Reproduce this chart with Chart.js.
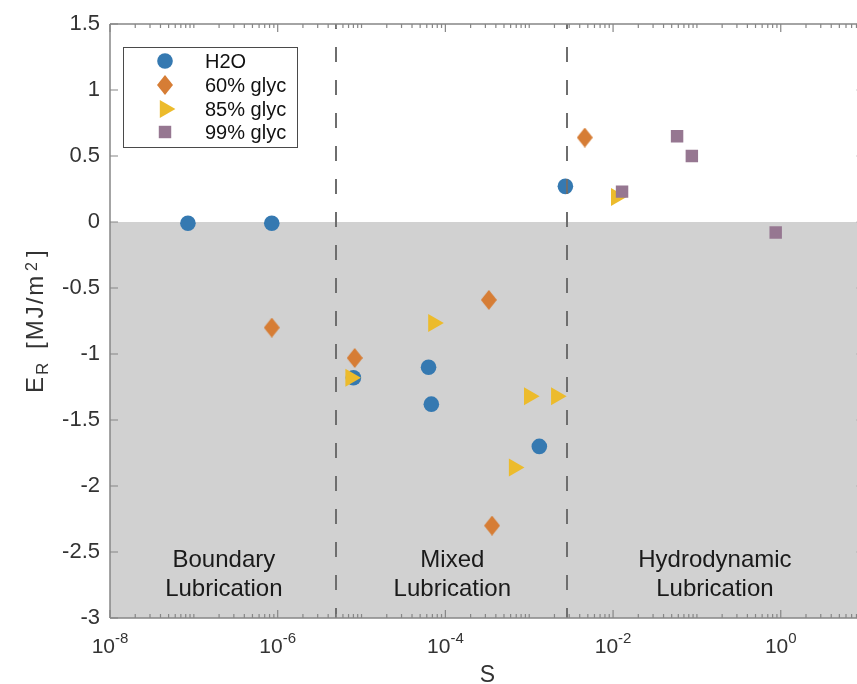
<!DOCTYPE html>
<html>
<head>
<meta charset="utf-8">
<script src="https://cdn.jsdelivr.net/npm/chart.js@4/dist/chart.umd.min.js"></script>
<style>
  html, body { margin: 0; padding: 0; background: #fff; overflow: hidden; }
  #wrap { width: 875px; height: 684px; }
</style>
</head>
<body>
<div id="wrap"><canvas id="erChart"></canvas></div>
<script>
// ---- data ----
const seriesNames = ["H2O", "60% glyc", "85% glyc", "99% glyc"];

const h2oS = [8.5e-8, 8.5e-7, 8.0e-6, 6.3e-5, 6.8e-5, 1.32e-3, 2.7e-3];
const h2oE = [-0.01, -0.01, -1.18, -1.10, -1.38, -1.70, 0.27];

const glyc60S = [8.5e-7, 8.3e-6, 3.3e-4, 3.6e-4, 4.6e-3];
const glyc60E = [-0.80, -1.03, -0.59, -2.30, 0.64];

const glyc85S = [7.4e-6, 7.2e-5, 1.0e-3, 2.1e-3, 6.6e-4, 1.09e-2];
const glyc85E = [-1.18, -0.765, -1.32, -1.32, -1.86, 0.19];

const glyc99S = [1.28e-2, 5.8e-2, 8.7e-2, 0.87];
const glyc99E = [0.23, 0.65, 0.50, -0.08];

// axes
const xMin = 1e-8, xMax = 10;
const xLabelExps = [-8, -6, -4, -2, 0];
const yMin = -3, yMax = 1.5, yStep = 0.5;

// regime boundaries and labels
const boundaryS = [5.0e-6, 2.83e-3];
const regionS = [2.28e-7, 1.21e-4, 0.164];
const regionLabels = [["Boundary", "Lubrication"], ["Mixed", "Lubrication"], ["Hydrodynamic", "Lubrication"]];
const shadeTop = 0;

const FONT = '"Liberation Sans", Arial, Helvetica, sans-serif';
const colors = ["#3579b1", "#d67d35", "#ecbb2c", "#967791"];

// diamond marker (taller than wide, like the original)
function makeDiamond(w, h, color) {
  const c = document.createElement("canvas");
  c.width = w; c.height = h;
  const g = c.getContext("2d");
  g.fillStyle = color;
  g.beginPath();
  g.moveTo(w / 2, 0);
  g.lineTo(w, h / 2);
  g.lineTo(w / 2, h);
  g.lineTo(0, h / 2);
  g.closePath();
  g.fill();
  return c;
}

const toPts = (xs, ys) => xs.map((v, i) => ({ x: v, y: ys[i] }));

const markers = [
  { pointStyle: "circle", radius: 7.8, rotation: 0 },
  { pointStyle: makeDiamond(16, 20, colors[1]), radius: 9, rotation: 0 },
  { pointStyle: "triangle", radius: 10.4, rotation: 90 },
  { pointStyle: "rect", radius: 8.8, rotation: 0 },
];

const seriesData = [toPts(h2oS, h2oE), toPts(glyc60S, glyc60E), toPts(glyc85S, glyc85E), toPts(glyc99S, glyc99E)];

const datasets = seriesNames.map((name, i) => ({
  label: name,
  data: seriesData[i],
  showLine: false,
  pointStyle: markers[i].pointStyle,
  pointRadius: markers[i].radius,
  pointHoverRadius: markers[i].radius,
  rotation: markers[i].rotation,
  backgroundColor: colors[i],
  borderColor: colors[i],
  borderWidth: 0,
  order: 4 - i, // later series drawn on top
}));

// shading, regime labels, dashed boundaries, frame with inward ticks, titles, legend
const decor = {
  id: "decor",
  beforeDatasetsDraw(chart) {
    const { ctx, chartArea: a, scales: { x, y } } = chart;
    ctx.save();
    const y0 = y.getPixelForValue(shadeTop);
    ctx.fillStyle = "#d1d1d1";
    ctx.fillRect(a.left, y0, a.right - a.left, a.bottom - y0);

    ctx.fillStyle = "#1a1a1a";
    ctx.font = "24px " + FONT;
    ctx.textAlign = "center";
    ctx.textBaseline = "alphabetic";
    regionLabels.forEach((lines, i) => {
      const px = x.getPixelForValue(regionS[i]);
      ctx.fillText(lines[0], px, a.bottom - 51);
      ctx.fillText(lines[1], px, a.bottom - 22);
    });
    ctx.restore();
  },
  afterDatasetsDraw(chart) {
    const { ctx, chartArea: a, scales: { x, y } } = chart;
    ctx.save();

    // dashed regime boundaries
    ctx.strokeStyle = "#6e6e6e";
    ctx.lineWidth = 2;
    ctx.setLineDash([15, 18]);
    ctx.lineDashOffset = 10;
    boundaryS.forEach(s => {
      const px = Math.round(x.getPixelForValue(s));
      ctx.beginPath();
      ctx.moveTo(px, a.top);
      ctx.lineTo(px, a.bottom);
      ctx.stroke();
    });
    ctx.setLineDash([]);

    // frame
    ctx.strokeStyle = "#868686";
    ctx.lineWidth = 1.5;
    ctx.beginPath();
    ctx.moveTo(a.left, a.top); ctx.lineTo(a.right, a.top);
    ctx.moveTo(a.left, a.bottom); ctx.lineTo(a.right, a.bottom);
    ctx.moveTo(a.left, a.top); ctx.lineTo(a.left, a.bottom);
    ctx.moveTo(a.right, a.top); ctx.lineTo(a.right, a.bottom);
    ctx.stroke();

    // y ticks (inward)
    ctx.lineWidth = 1.2;
    ctx.beginPath();
    y.ticks.forEach(t => {
      const py = y.getPixelForValue(t.value);
      ctx.moveTo(a.left, py); ctx.lineTo(a.left + 8, py);
      ctx.moveTo(a.right, py); ctx.lineTo(a.right - 8, py);
    });
    // x ticks: major at labelled decades, minor elsewhere
    for (let n = -8; n <= 0; n++) {
      for (let k = 1; k <= 9; k++) {
        const v = k * Math.pow(10, n);
        if (v < xMin || v > xMax) continue;
        const px = x.getPixelForValue(v);
        const len = (k === 1 && xLabelExps.includes(n)) ? 8 : 4;
        ctx.moveTo(px, a.bottom); ctx.lineTo(px, a.bottom - len);
        ctx.moveTo(px, a.top); ctx.lineTo(px, a.top + len);
      }
    }
    ctx.stroke();

    // x tick labels with superscript exponents
    ctx.fillStyle = "#333";
    ctx.textAlign = "left";
    ctx.textBaseline = "alphabetic";
    xLabelExps.forEach(e => {
      const px = x.getPixelForValue(Math.pow(10, e));
      ctx.font = "21px " + FONT;
      const w1 = ctx.measureText("10").width;
      ctx.font = "15px " + FONT;
      const w2 = ctx.measureText(String(e)).width;
      const left = px - (w1 + w2) / 2;
      ctx.font = "21px " + FONT;
      ctx.fillText("10", left, a.bottom + 35);
      ctx.font = "15px " + FONT;
      ctx.fillText(String(e), left + w1, a.bottom + 25);
    });

    // x title
    ctx.font = "23px " + FONT;
    ctx.textAlign = "center";
    ctx.fillText("S", (a.left + a.right) / 2, a.bottom + 64);

    // y title: E_R [MJ/m^2]
    ctx.save();
    ctx.translate(43, 393);
    ctx.rotate(-Math.PI / 2);
    ctx.textAlign = "left";
    ctx.font = "24px " + FONT;
    ctx.fillText("E", 0, 0);
    ctx.font = "17px " + FONT;
    ctx.fillText("R", 18, 5);
    ctx.font = "24px " + FONT;
    ctx.letterSpacing = "2px";
    ctx.fillText("[MJ/m", 44, 0);
    ctx.letterSpacing = "0px";
    ctx.font = "16px " + FONT;
    ctx.fillText("2", 122, -6);
    ctx.font = "24px " + FONT;
    ctx.fillText("]", 136, 0);
    ctx.restore();

    ctx.restore();
  },
  afterDraw(chart) {
    const { ctx, chartArea: a } = chart;
    ctx.save();
    const bx = a.left + 13, by = a.top + 23, bw = 174, bh = 100;
    ctx.fillStyle = "#fff";
    ctx.fillRect(bx, by, bw, bh);
    ctx.strokeStyle = "#4a4a4a";
    ctx.lineWidth = 1;
    ctx.strokeRect(bx + 0.5, by + 0.5, bw, bh);

    const rowY = [14, 38, 62, 85];
    ctx.font = "20px " + FONT;
    ctx.textAlign = "left";
    ctx.textBaseline = "middle";
    seriesNames.forEach((name, i) => {
      const cy = by + rowY[i];
      const ds = chart.data.datasets[i];
      ctx.fillStyle = colors[i];
      ctx.strokeStyle = colors[i];
      Chart.helpers.drawPoint(ctx, {
        pointStyle: ds.pointStyle,
        radius: ds.pointRadius,
        rotation: ds.rotation,
        borderWidth: 0,
      }, bx + 42, cy);
      ctx.fillStyle = "#111";
      ctx.fillText(name, bx + 82, cy + 1);
    });
    ctx.restore();
  },
};

const chart = new Chart(document.getElementById("erChart"), {
  type: "scatter",
  data: { datasets },
  plugins: [decor],
  options: {
    responsive: true,
    maintainAspectRatio: false,
    animation: false,
    devicePixelRatio: 1,
    layout: { padding: { top: 24, right: 9, left: 0, bottom: 0 } },
    plugins: { legend: { display: false }, tooltip: { enabled: false } },
    scales: {
      x: {
        type: "logarithmic",
        min: xMin,
        max: xMax,
        grid: { display: false, drawTicks: false },
        border: { display: false },
        ticks: { display: false },
        afterFit(s) { s.height = 66; },
      },
      y: {
        min: yMin,
        max: yMax,
        grid: { display: false, drawTicks: false },
        border: { display: false },
        ticks: {
          stepSize: yStep,
          padding: 10,
          color: "#333",
          font: { family: FONT, size: 22 },
          callback: v => String(Math.round(v * 10) / 10),
        },
        afterFit(s) { s.width = 110; },
      },
    },
  },
});
</script>
</body>
</html>
